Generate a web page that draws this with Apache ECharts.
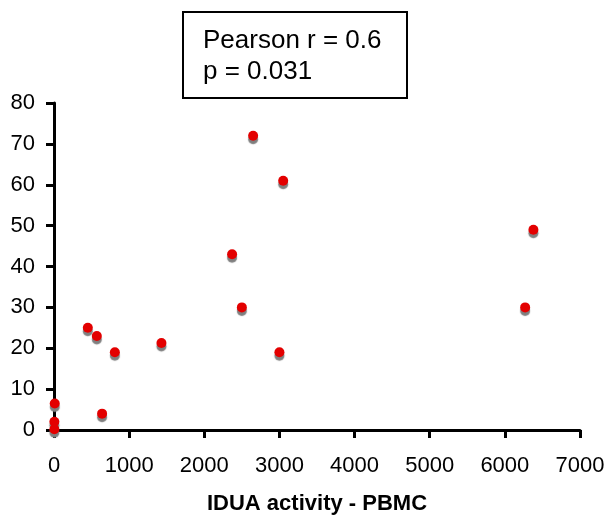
<!DOCTYPE html>
<html>
<head>
<meta charset="utf-8">
<script src="https://cdn.jsdelivr.net/npm/echarts@6/dist/echarts.min.js"></script>
<style>html,body{margin:0;padding:0;background:#fff;}#c{width:609px;height:520px;}</style>
</head>
<body>
<div id="c"></div>
<script>
var xValues = [10, 5, 5, 640, 450, 570, 810, 1430, 2370, 2500, 2650, 3000, 3050, 6270, 6380];
var yValues = [6.5, 2, 0.2, 4, 25, 23, 19, 21.3, 43, 30, 72, 19, 61, 30, 49];
var xTicks = [0, 1000, 2000, 3000, 4000, 5000, 6000, 7000];
var yTicks = [0, 10, 20, 30, 40, 50, 60, 70, 80];
var statLines = ['Pearson r = 0.6', 'p = 0.031'];
var xName = 'IDUA activity - PBMC';

var points = xValues.map(function (x, i) { return [x, yValues[i]]; });
var font = 'Liberation Sans, Arial, sans-serif';
var chart = echarts.init(document.getElementById('c'));
chart.setOption({
  animation: false,
  grid: { left: 54, right: 29, top: 103, bottom: 89 },
  xAxis: {
    type: 'value', min: xTicks[0], max: xTicks[xTicks.length - 1], interval: 1000,
    name: xName, nameLocation: 'middle', nameGap: 63,
    nameTextStyle: { fontFamily: font, fontSize: 22, fontWeight: 'bold', color: '#000' },
    axisLine: { onZero: false, lineStyle: { color: '#000', width: 3 } },
    axisTick: { show: true, length: 8, lineStyle: { color: '#000', width: 3 } },
    axisLabel: { fontFamily: font, fontSize: 22, color: '#000', margin: 25, formatter: function (v) { return String(v); } },
    splitLine: { show: false }
  },
  yAxis: {
    type: 'value', min: yTicks[0], max: yTicks[yTicks.length - 1], interval: 10,
    axisLine: { show: true, onZero: false, lineStyle: { color: '#000', width: 3 } },
    axisTick: { show: true, length: 8, lineStyle: { color: '#000', width: 3 } },
    axisLabel: { fontFamily: font, fontSize: 22, color: '#000', margin: 19 },
    splitLine: { show: false }
  },
  series: [{
    type: 'scatter', data: points, symbol: 'circle', symbolSize: 10,
    itemStyle: { color: '#e30000', shadowColor: '#7f7f7f', shadowBlur: 1, shadowOffsetX: 0, shadowOffsetY: 3.5, opacity: 1 },
    emphasis: { disabled: true }
  }],
  graphic: [
    { type: 'rect', shape: { x: 183, y: 12, width: 224, height: 86 }, style: { fill: '#fff', stroke: '#000', lineWidth: 2 } },
    { type: 'text', x: 203, y: 41, style: { text: statLines[0], font: '26px ' + font, fill: '#000', verticalAlign: 'middle' } },
    { type: 'text', x: 203, y: 72, style: { text: statLines[1], font: '26px ' + font, fill: '#000', verticalAlign: 'middle' } }
  ]
});
</script>
</body>
</html>
